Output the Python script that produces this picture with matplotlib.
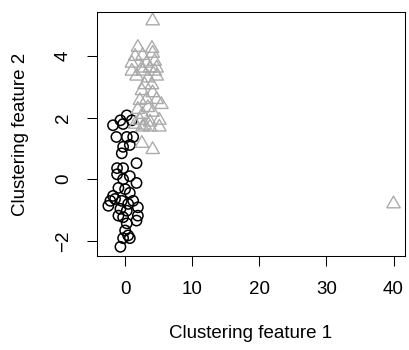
import matplotlib
matplotlib.use('Agg')
import matplotlib.pyplot as plt
import numpy as np

plt.rcParams['font.family'] = ['Liberation Sans', 'DejaVu Sans']

# cluster 1 (black circles)
c1_x = [-1.8, -0.7, 0.25, 1.0, -0.3, -1.3, 0.25, 1.2, -0.3, 0.7,
        -0.5, 1.7, -1.2, -0.3, -1.2, 0.7, -0.3, 1.7, -1.0, 0.0,
        0.7, -1.8, -2.2, -2.5, -1.5, -0.5, 0.45, 1.2, 1.9, -0.7,
        0.25, -1.0, -0.3, 1.9, 1.7, 0.25, 0.0, 0.45, -0.3, 0.7, -0.7]
c1_y = [1.75, 1.91, 2.07, 1.91, 1.79, 1.37, 1.37, 1.37, 1.05, 1.11,
        0.84, 0.52, 0.36, 0.36, 0.16, 0.10, 0.0, -0.12, -0.28, -0.32,
        -0.44, -0.54, -0.70, -0.86, -0.64, -0.70, -0.80, -0.70, -0.91, -0.96,
        -1.02, -1.18, -1.23, -1.18, -1.34, -1.43, -1.66, -1.82, -1.91, -1.91, -2.19]

# cluster 2 (grey triangles)
c2_x = [4.1, 1.9, 4.0, 1.5, 2.6, 4.1, 1.0, 3.2, 4.4, 2.5,
        3.7, 4.7, 1.0, 2.6, 4.4, 1.7, 3.4, 4.7, 4.0, 2.9,
        2.5, 4.1, 3.2, 2.2, 4.7, 1.9, 3.4, 5.4, 2.6, 4.1,
        2.2, 3.7, 5.1, 1.5, 2.9, 2.6, 3.7, 5.1, 2.5, 4.1, 40.0]
c2_y = [5.13, 4.27, 4.24, 3.98, 4.01, 4.08, 3.76, 3.76, 3.82, 3.60,
        3.60, 3.60, 3.50, 3.50, 3.50, 3.34, 3.28, 3.34, 3.06, 3.06,
        2.87, 2.80, 2.58, 2.55, 2.58, 2.26, 2.32, 2.42, 2.10, 2.17,
        1.91, 1.85, 1.91, 1.78, 1.75, 1.69, 1.69, 1.69, 1.16, 0.96, -0.8]

xticks = [0, 10, 20, 30, 40]
yticks = [-2, 0, 2, 4]

# R style triangle (equilateral, centred)
tri = [(-1, -0.577), (1, -0.577), (0, 1.155), (-1, -0.577)]

fig = plt.figure(figsize=(4.09, 3.5), dpi=100)
ax = fig.add_axes([0.237, 0.269, 0.753, 0.697])

ax.scatter(c1_x, c1_y, s=7.4**2, marker='o', facecolors='none',
           edgecolors='black', linewidths=1.1)
ax.scatter(c2_x, c2_y, s=11.2**2, marker=tri, facecolors='none',
           edgecolors='#ababab', linewidths=1.0)

ax.margins(x=0.04, y=0.04)
ax.set_xticks(xticks)
ax.set_yticks(yticks)
ax.tick_params(direction='out', length=7, width=0.75, labelsize=13.5, pad=11)
for lab in ax.get_yticklabels():
    lab.set_rotation(90)
    lab.set_va('center')
for sp in ax.spines.values():
    sp.set_linewidth(0.75)

ax.set_xlabel('Clustering feature 1', fontsize=13.5)
ax.set_ylabel('Clustering feature 2', fontsize=13.5)
ax.xaxis.set_label_coords(0.5, -0.285)
ax.yaxis.set_label_coords(-0.22, 0.5)

fig.savefig('out.png', dpi=100)
